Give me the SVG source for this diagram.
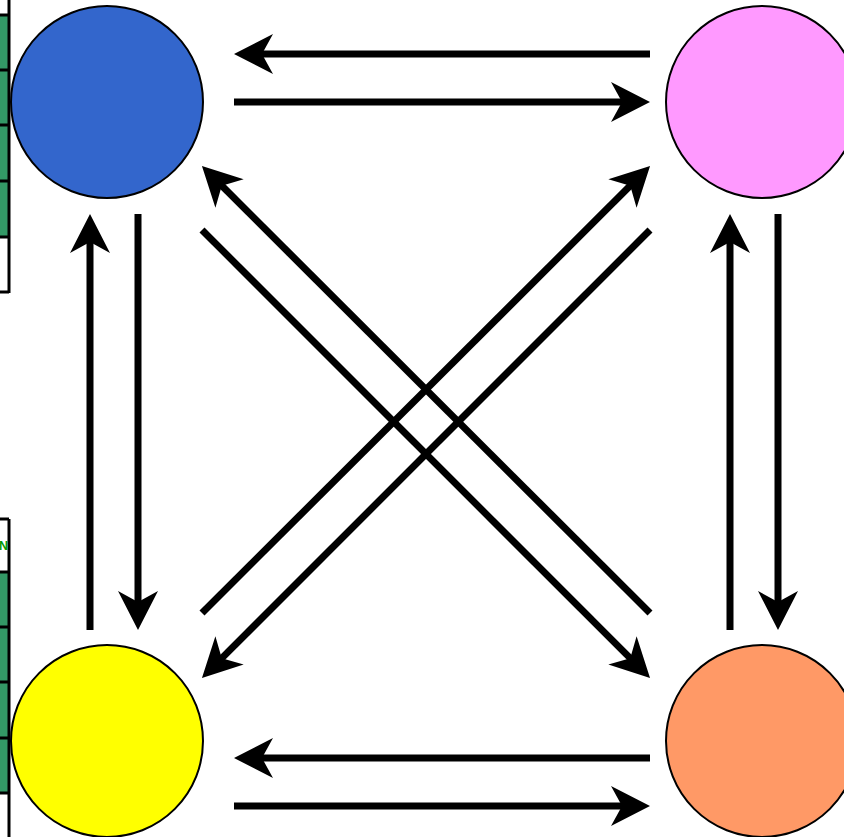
<svg xmlns="http://www.w3.org/2000/svg" width="844" height="837" viewBox="0 0 844 837">
<style>
.node{stroke:#000;stroke-width:2}
.conn{stroke:#000;stroke-width:7;fill:none;marker-end:url(#arr)}
.tbl{stroke:#000;stroke-width:3;fill:none}
.cell{fill:#339966}
.lbl{font-family:"Liberation Sans",Arial,sans-serif;font-weight:bold;font-size:12.5px;fill:#009900}
</style>
<defs>
<marker id="arr" markerUnits="userSpaceOnUse" markerWidth="40" markerHeight="40" viewBox="0 0 40 40" refX="19" refY="20" orient="auto">
<path d="M0,0 L39,20 L0,40 L11,20 Z" fill="#000"/>
</marker>
</defs>
<rect width="844" height="837" fill="#fff"/>
<g id="table-top">
<rect class="cell" x="0" y="15" width="9" height="222"/>
<path class="tbl" d="M9,0 V293 M0,15 H9 M0,70 H9 M0,125 H9 M0,181 H9 M0,237 H9 M0,292 H9"/>
</g>
<g id="table-bottom">
<rect class="cell" x="0" y="572" width="9" height="221"/>
<path class="tbl" d="M9,519 V837 M0,519 H9 M0,572 H9 M0,627 H9 M0,682 H9 M0,738 H9 M0,793 H9"/>
<text class="lbl" x="8" y="549.5" text-anchor="end">N</text>
</g>
<g id="node-blue"><circle class="node" cx="107" cy="102" r="96" fill="#3366CC"/></g>
<g id="node-pink"><circle class="node" cx="762" cy="102" r="96" fill="#FF99FF"/></g>
<g id="node-yellow"><circle class="node" cx="107" cy="741" r="96" fill="#FFFF00"/></g>
<g id="node-orange"><circle class="node" cx="762" cy="741" r="96" fill="#FF9966"/></g>
<g id="connectors">
<line class="conn" x1="650" y1="54" x2="254" y2="54"/>
<line class="conn" x1="234" y1="102" x2="630" y2="102"/>
<line class="conn" x1="650" y1="758" x2="254" y2="758"/>
<line class="conn" x1="234" y1="806" x2="630" y2="806"/>
<line class="conn" x1="90" y1="630" x2="90" y2="234"/>
<line class="conn" x1="138" y1="214" x2="138" y2="610"/>
<line class="conn" x1="730" y1="630" x2="730" y2="234"/>
<line class="conn" x1="778" y1="214" x2="778" y2="610"/>
<line class="conn" x1="650" y1="613" x2="216.1" y2="180.1"/>
<line class="conn" x1="202" y1="230" x2="635.9" y2="663.9"/>
<line class="conn" x1="202" y1="613" x2="635.9" y2="180.1"/>
<line class="conn" x1="650" y1="230" x2="216.1" y2="663.9"/>
</g>
</svg>
